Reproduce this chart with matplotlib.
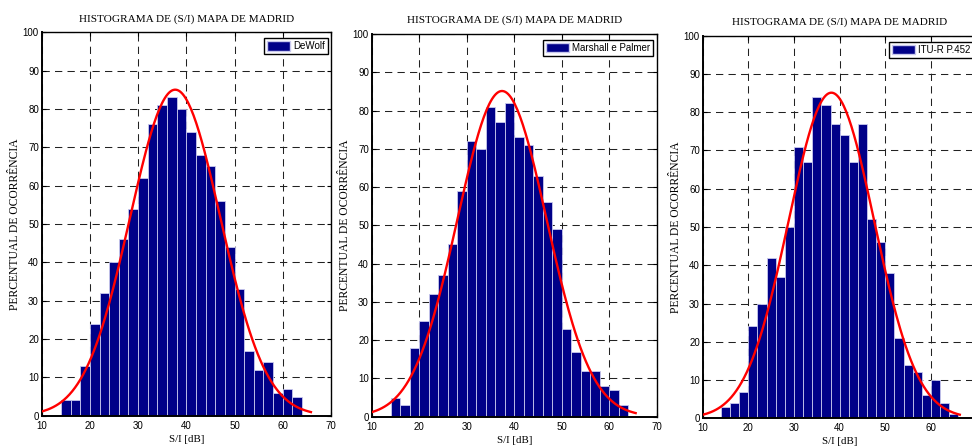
import numpy as np
import matplotlib
matplotlib.use("Agg")
import matplotlib.pyplot as plt
from matplotlib.patches import Patch

# ---------------- data ----------------
title_text = "HISTOGRAMA DE (S/I) MAPA DE MADRID"
ylabel_text = "PERCENTUAL DE OCORRÊNCIA"
xlabel_text = "S/I [dB]"

series_names = ["DeWolf", "Marshall e Palmer", "ITU-R P.452"]

bin_width = 2
bin_centers_a = [15, 17, 19, 21, 23, 25, 27, 29, 31, 33, 35, 37, 39,
                 41, 43, 45, 47, 49, 51, 53, 55, 57, 59, 61, 63]
bin_centers_b = bin_centers_a + [65]

counts_dewolf = [4, 4, 13, 24, 32, 40, 46, 54, 62, 76, 81, 83, 80,
                 74, 68, 65, 56, 44, 33, 17, 12, 14, 6, 7, 5]
counts_marshall = [5, 3, 18, 25, 32, 37, 45, 59, 72, 70, 81, 77, 82,
                   73, 71, 63, 56, 49, 23, 17, 12, 12, 8, 7, 3]
counts_itu = [3, 4, 7, 24, 30, 42, 37, 50, 71, 67, 84, 82, 77,
              74, 67, 77, 52, 46, 38, 21, 14, 12, 6, 10, 4, 1]

xticks = [10, 20, 30, 40, 50, 60, 70]
yticks = [0, 10, 20, 30, 40, 50, 60, 70, 80, 90, 100]

# ---------------- layout (pixels) ----------------
W, H = 972, 447
fig = plt.figure(figsize=(W / 100, H / 100), dpi=100)

panels = [
    # left, right, top, bottom (pixels)
    (41.7, 331.0, 32.3, 415.7),
    (371.7, 656.8, 34.0, 416.7),
    (702.7, 976.6, 35.7, 418.3),
]
data = [
    (bin_centers_a, counts_dewolf, series_names[0]),
    (bin_centers_a, counts_marshall, series_names[1]),
    (bin_centers_b, counts_itu, series_names[2]),
]

bar_color = "#000088"
serif = ["Liberation Serif", "DejaVu Serif"]
sans = ["Liberation Sans", "DejaVu Sans"]

for i, ((l, r, t, b), (centers, counts, name)) in enumerate(zip(panels, data)):
    wpx, hpx = r - l, b - t
    ax = fig.add_axes([l / W, (H - b) / H, wpx / W, hpx / H])
    ax.set_xlim(10, 70)
    ax.set_ylim(0, 100)
    ax.set_axisbelow(True)

    ax.bar(centers, counts, width=bin_width, color=bar_color,
           edgecolor="#c8c8ee", linewidth=0.6, zorder=2)

    # normal fit (histfit-style) from the histogram data
    c = np.asarray(centers, float)
    n = np.asarray(counts, float)
    N = n.sum()
    mu = (c * n).sum() / N
    sigma = np.sqrt(((c - mu) ** 2 * n).sum() / (N - 1))
    xx = np.linspace(mu - 3 * sigma, mu + 3 * sigma, 200)
    yy = N * bin_width * np.exp(-0.5 * ((xx - mu) / sigma) ** 2) / (sigma * np.sqrt(2 * np.pi))
    ax.plot(xx, yy, color="red", lw=1.7, zorder=3)

    ax.set_xticks(xticks)
    ax.set_yticks(yticks)
    xlabels = [str(v) for v in xticks]
    if i == 2:
        xlabels[-1] = ""  # falls outside the visible image in the reference
    ax.set_xticklabels(xlabels)
    ax.grid(True, color="#222222", linestyle=(0, (7, 5)), linewidth=0.75)
    ax.tick_params(direction="in", length=3, width=0.8, pad=2,
                   top=True, right=True, labelsize=7)
    ax.tick_params(axis="x", pad=3.5)
    for lab in ax.get_xticklabels() + ax.get_yticklabels():
        lab.set_family(sans)
    for s in ax.spines.values():
        s.set_linewidth(1.0)
        s.set_color("black")
    ax.spines["left"].set_linewidth(1.4)
    ax.spines["bottom"].set_linewidth(1.4)

    ax.text(0.5, 1 + 13.5 / hpx, title_text, transform=ax.transAxes,
            ha="center", va="center", fontsize=8.1, family=serif)
    ax.set_ylabel(ylabel_text, fontsize=8.4, family=serif)
    ax.yaxis.set_label_coords(-20.5 / wpx, 0.5)
    ax.set_xlabel(xlabel_text, fontsize=7.8, family=serif)
    ax.xaxis.set_label_coords(0.5, -19.0 / hpx)

    leg = ax.legend(handles=[Patch(facecolor=bar_color, edgecolor="#c8c8ee")],
                    labels=[name], loc="upper right",
                    bbox_to_anchor=(1 - 3.5 / wpx, 1 - 6 / hpx),
                    borderaxespad=0, fancybox=False, framealpha=1,
                    edgecolor="black", prop={"family": sans, "size": 7},
                    handlelength=2.4, handleheight=1.1, handletextpad=0.3,
                    borderpad=0.3)
    leg.get_frame().set_linewidth(1.0)

fig.savefig("out.png", dpi=100)
